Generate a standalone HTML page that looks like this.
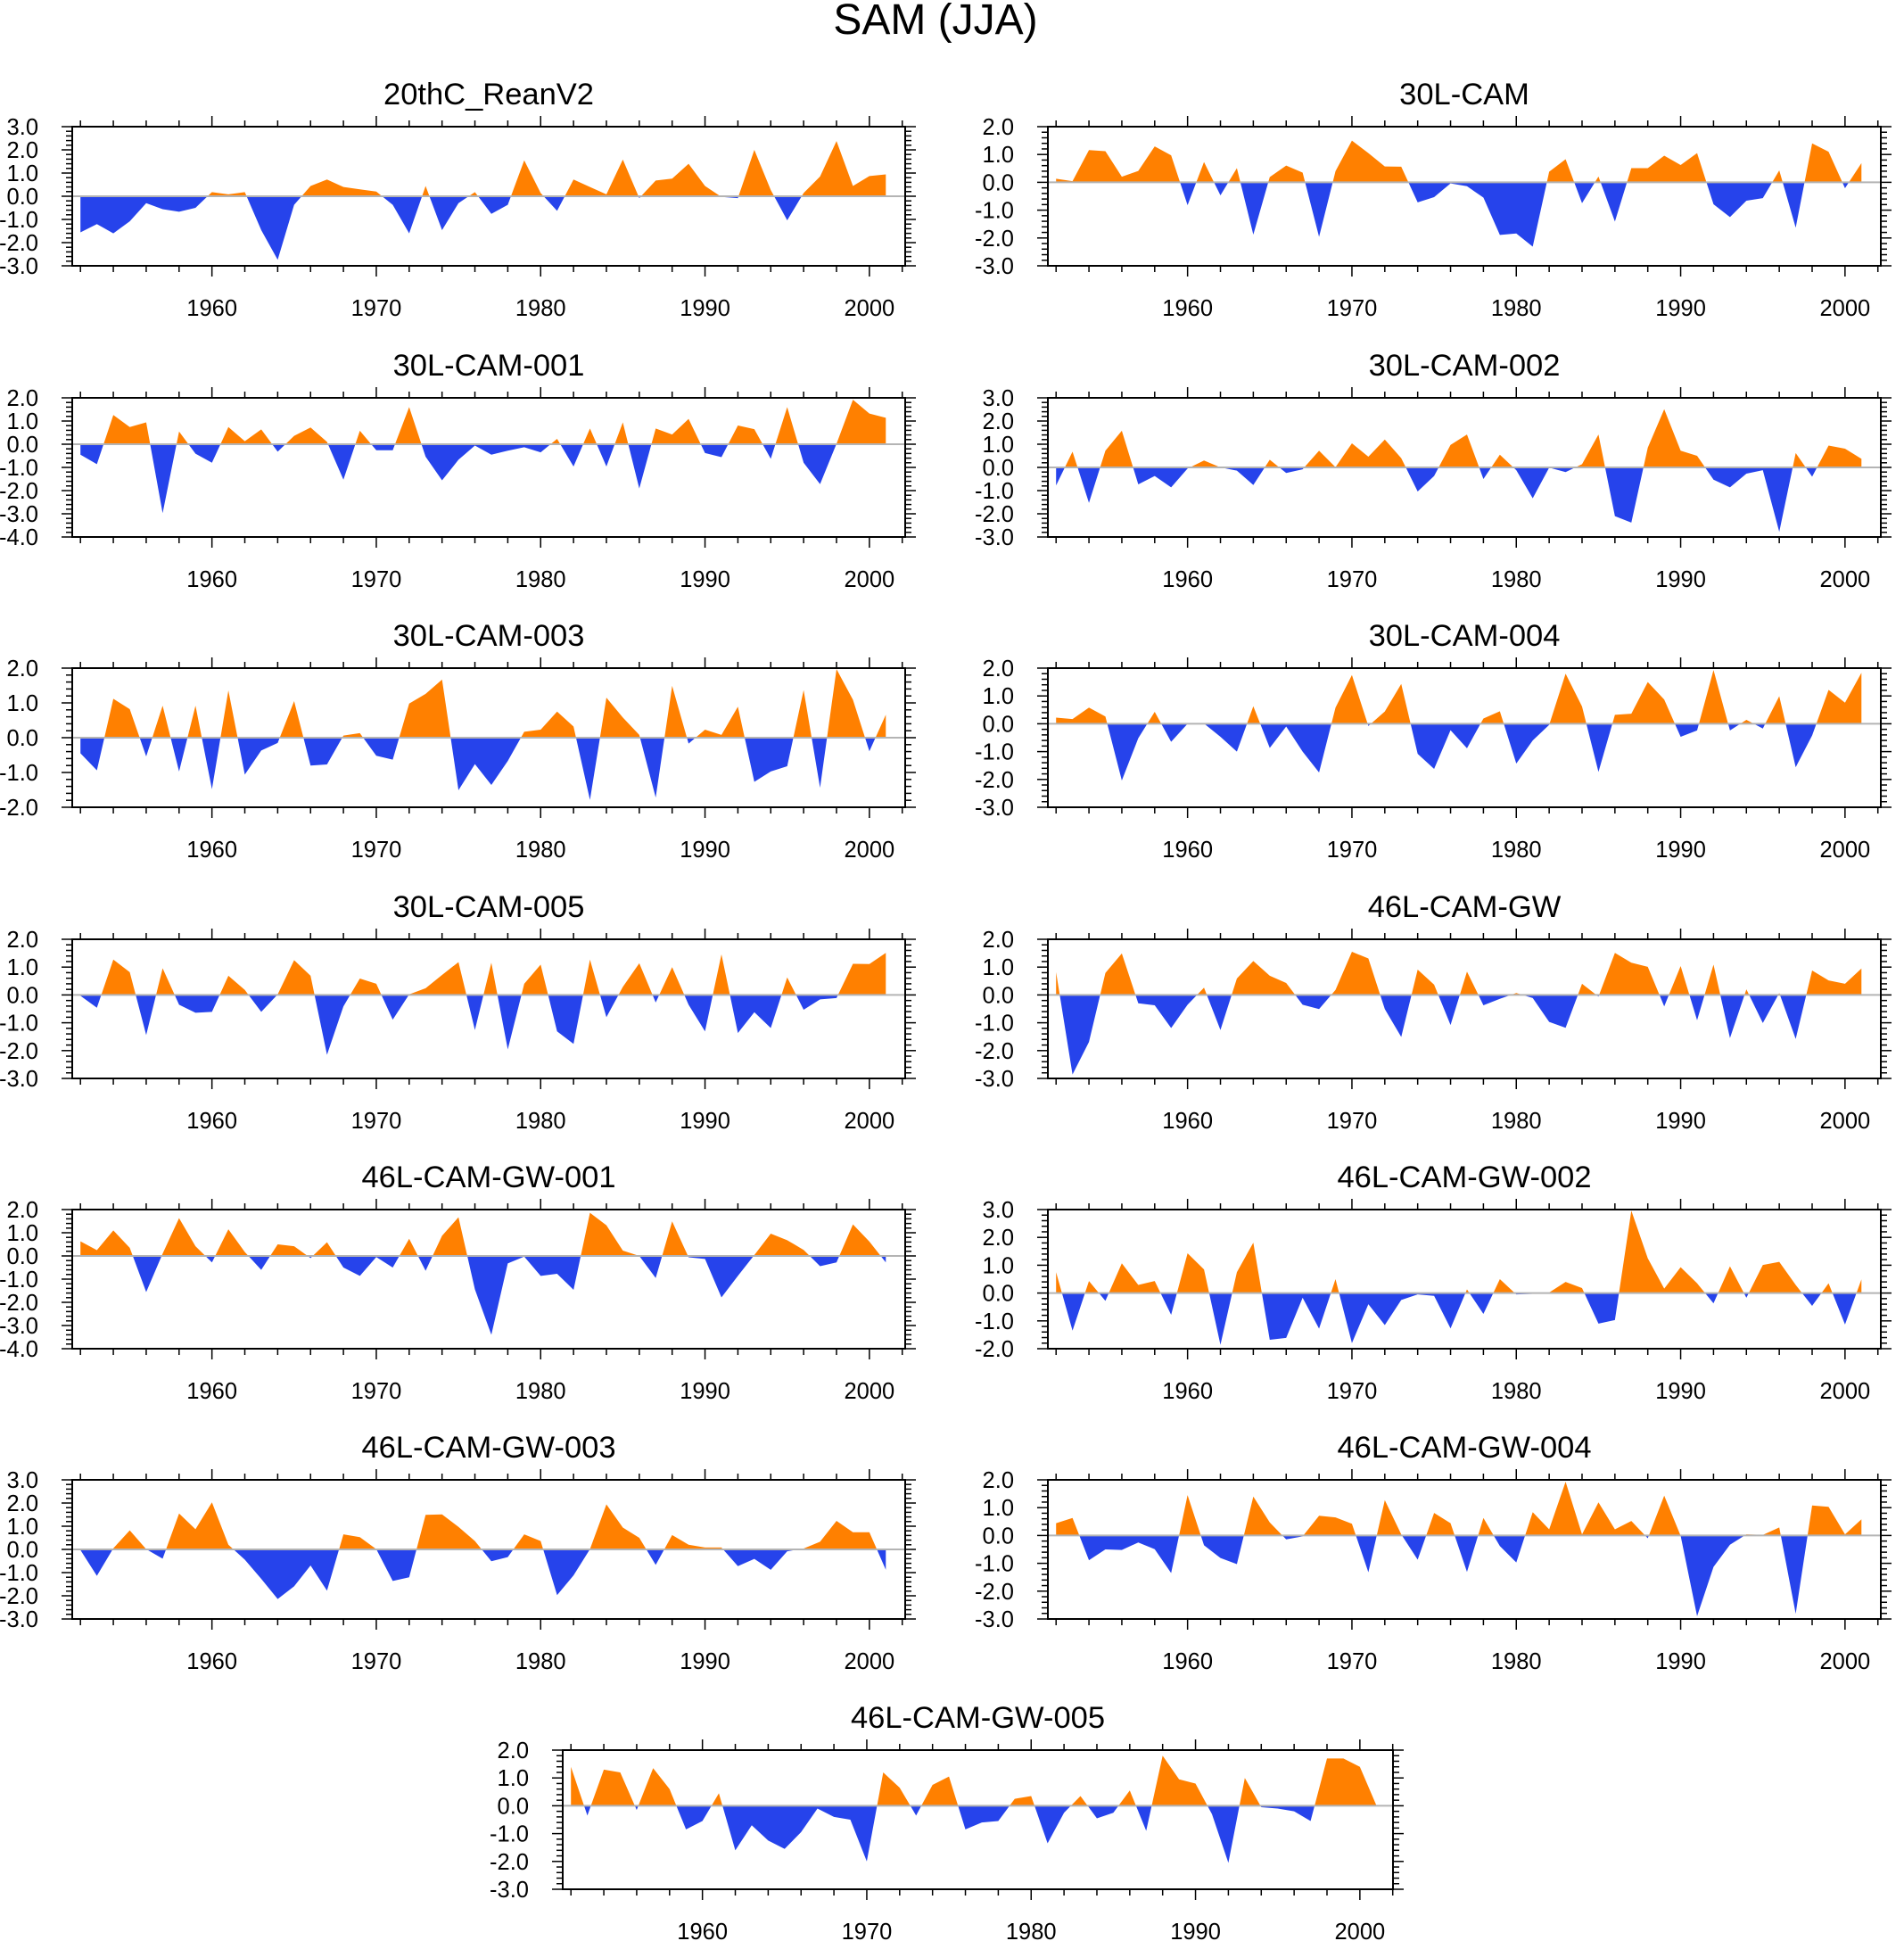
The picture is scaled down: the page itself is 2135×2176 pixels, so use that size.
<!DOCTYPE html>
<html><head><meta charset="utf-8"><title>SAM (JJA)</title>
<style>html,body{margin:0;padding:0;background:#fff}svg{display:block}</style></head>
<body>
<svg id="fig" xmlns="http://www.w3.org/2000/svg" width="2135" height="2176" viewBox="0 0 2135 2176" font-family="'Liberation Sans', Arial, sans-serif">
<rect width="2135" height="2176" fill="#fff"/>
<text x="1049" y="38" font-size="48" text-anchor="middle">SAM (JJA)</text>
</svg>
<script>
const startYear = 1952;
const panelTitles = ["20thC_ReanV2","30L-CAM","30L-CAM-001","30L-CAM-002","30L-CAM-003","30L-CAM-004","30L-CAM-005","46L-CAM-GW","46L-CAM-GW-001","46L-CAM-GW-002","46L-CAM-GW-003","46L-CAM-GW-004","46L-CAM-GW-005"];
const yMax = [3,2,2,3,2,2,2,2,2,3,3,2,2];
const yMin = [-3,-3,-4,-3,-2,-3,-3,-3,-4,-2,-3,-3,-3];
const xTickYears = [1960,1970,1980,1990,2000];

const s0 = [-1.56,-1.2,-1.6,-1.08,-0.3,-0.56,-0.67,-0.5,0.18,0.08,0.18,-1.46,-2.74,-0.37,0.44,0.72,0.4,0.3,0.2,-0.37,-1.6,0.44,-1.46,-0.3,0.18,-0.76,-0.37,1.55,0.14,-0.63,0.72,0.4,0.08,1.58,-0.08,0.68,0.76,1.4,0.44,-0.03,-0.08,2.0,0.27,-1.04,0.14,0.85,2.38,0.44,0.87,0.94];
const s1 = [0.13,0.04,1.16,1.12,0.2,0.41,1.29,0.97,-0.82,0.73,-0.47,0.51,-1.88,0.19,0.6,0.35,-1.96,0.4,1.5,1.05,0.57,0.56,-0.72,-0.53,-0.04,-0.14,-0.55,-1.89,-1.84,-2.31,0.38,0.83,-0.75,0.21,-1.41,0.51,0.51,0.96,0.62,1.05,-0.79,-1.25,-0.66,-0.57,0.43,-1.63,1.4,1.1,-0.21,0.69];
const s2 = [-0.45,-0.86,1.26,0.74,0.94,-2.97,0.55,-0.41,-0.8,0.74,0.13,0.64,-0.32,0.36,0.72,0.1,-1.53,0.58,-0.26,-0.26,1.6,-0.54,-1.56,-0.67,-0.06,-0.45,-0.28,-0.13,-0.35,0.23,-0.96,0.68,-0.96,0.94,-1.91,0.68,0.42,1.09,-0.38,-0.56,0.81,0.65,-0.63,1.6,-0.8,-1.72,0.02,1.92,1.32,1.14];
const s3 = [-0.78,0.68,-1.53,0.72,1.58,-0.73,-0.37,-0.86,-0.05,0.3,0.0,-0.14,-0.76,0.33,-0.24,-0.08,0.72,0.01,1.04,0.46,1.2,0.4,-1.04,-0.37,0.97,1.42,-0.5,0.55,-0.12,-1.33,-0.01,-0.2,0.14,1.42,-2.1,-2.38,0.85,2.51,0.72,0.5,-0.53,-0.86,-0.27,-0.12,-2.78,0.62,-0.4,0.94,0.81,0.37];
const s4 = [-0.45,-0.94,1.12,0.82,-0.54,0.92,-0.97,0.92,-1.48,1.36,-1.06,-0.37,-0.15,1.05,-0.8,-0.77,0.06,0.13,-0.52,-0.63,0.98,1.26,1.67,-1.51,-0.76,-1.36,-0.67,0.17,0.23,0.75,0.32,-1.79,1.15,0.58,0.08,-1.72,1.49,-0.17,0.23,0.08,0.89,-1.27,-0.97,-0.82,1.37,-1.44,1.97,1.09,-0.39,0.66];
const s5 = [0.22,0.17,0.58,0.26,-2.04,-0.52,0.43,-0.65,0,0.01,-0.47,-1.0,0.63,-0.87,-0.1,-1.0,-1.75,0.58,1.75,-0.08,0.44,1.43,-1.08,-1.62,-0.23,-0.88,0.19,0.45,-1.43,-0.6,-0.04,1.8,0.62,-1.73,0.32,0.36,1.5,0.87,-0.47,-0.24,1.93,-0.24,0.14,-0.17,0.99,-1.56,-0.42,1.22,0.76,1.83];
const s6 = [-0.03,-0.46,1.27,0.82,-1.44,0.96,-0.35,-0.64,-0.61,0.69,0.18,-0.61,0.02,1.25,0.69,-2.15,-0.41,0.59,0.4,-0.89,0.02,0.24,0.72,1.18,-1.26,1.16,-1.96,0.4,1.09,-1.31,-1.76,1.27,-0.8,0.29,1.14,-0.27,1.0,-0.35,-1.31,1.46,-1.37,-0.62,-1.19,0.63,-0.53,-0.16,-0.11,1.12,1.11,1.51];
const s7 = [0.82,-2.86,-1.69,0.79,1.49,-0.3,-0.37,-1.19,-0.35,0.26,-1.26,0.59,1.22,0.69,0.43,-0.35,-0.51,0.18,1.55,1.31,-0.51,-1.51,0.91,0.37,-1.08,0.84,-0.37,-0.14,0.07,-0.11,-0.97,-1.18,0.4,-0.06,1.51,1.16,1.01,-0.41,1.04,-0.91,1.09,-1.55,0.2,-1.01,0.07,-1.58,0.88,0.52,0.4,0.95];
const s8 = [0.63,0.25,1.1,0.35,-1.56,0.1,1.63,0.42,-0.28,1.15,0.17,-0.6,0.5,0.42,-0.09,0.59,-0.5,-0.86,-0.05,-0.5,0.74,-0.64,0.87,1.67,-1.44,-3.4,-0.32,-0.03,-0.86,-0.77,-1.46,1.86,1.32,0.23,0,-0.95,1.49,-0.06,-0.13,-1.79,-0.86,0.04,0.96,0.68,0.26,-0.44,-0.28,1.36,0.62,-0.28];
const s9 = [0.75,-1.35,0.43,-0.28,1.07,0.29,0.43,-0.78,1.43,0.85,-1.86,0.75,1.81,-1.68,-1.61,-0.17,-1.28,0.5,-1.8,-0.4,-1.15,-0.25,-0.05,-0.1,-1.27,0.13,-0.75,0.5,-0.05,-0.03,0.02,0.4,0.18,-1.1,-0.97,2.96,1.25,0.16,0.93,0.35,-0.37,0.96,-0.17,1.01,1.12,0.29,-0.46,0.35,-1.13,0.49];
const s10 = [-0.03,-1.14,0.05,0.82,0.01,-0.4,1.55,0.87,2.03,0.2,-0.44,-1.27,-2.14,-1.59,-0.69,-1.78,0.65,0.53,0.01,-1.36,-1.2,1.49,1.51,0.97,0.36,-0.51,-0.33,0.65,0.36,-1.97,-1.12,0.01,1.94,0.94,0.5,-0.67,0.62,0.2,0.08,0.08,-0.72,-0.41,-0.88,-0.08,0.04,0.33,1.23,0.74,0.74,-0.88];
const s11 = [0.44,0.63,-0.89,-0.5,-0.52,-0.25,-0.49,-1.35,1.45,-0.35,-0.81,-1.03,1.4,0.47,-0.14,-0.03,0.71,0.65,0.42,-1.32,1.27,0.04,-0.87,0.81,0.44,-1.31,0.63,-0.38,-0.97,0.84,0.22,1.93,0.04,1.19,0.22,0.52,-0.1,1.43,-0.01,-2.9,-1.13,-0.33,0.04,0.02,0.29,-2.81,1.08,1.03,0.04,0.58];
const s12 = [1.4,-0.35,1.3,1.2,-0.15,1.35,0.6,-0.85,-0.55,0.45,-1.6,-0.7,-1.25,-1.55,-0.95,-0.1,-0.4,-0.5,-2.0,1.2,0.65,-0.35,0.75,1.05,-0.85,-0.6,-0.55,0.25,0.35,-1.35,-0.25,0.35,-0.45,-0.25,0.55,-0.9,1.8,0.95,0.8,-0.3,-2.05,1.0,-0.05,-0.1,-0.2,-0.55,1.7,1.7,1.4,0.02];

const allSeries = [s0,s1,s2,s3,s4,s5,s6,s7,s8,s9,s10,s11,s12];

const NS = "http://www.w3.org/2000/svg";
const svg = document.getElementById('fig');
function mk(tag, attrs, parent) {
  const e = document.createElementNS(NS, tag);
  for (const k in attrs) e.setAttribute(k, attrs[k]);
  (parent || svg).appendChild(e);
  return e;
}
const rowTop = [142,446,749,1053,1356,1659,1962];
const PH = 156;
const PXY = 18.43;
const X0 = 1951.5;

function drawPanel(i, left, top, PW) {
  const right = left + PW;
  const bottom = top + PH;
  const vals = allSeries[i];
  const ymax = yMax[i], ymin = yMin[i];
  const xs = yr => left + (yr - X0) * PXY;
  const ys = v => top + (ymax - v) / (ymax - ymin) * (bottom - top);
  const g = mk('g', {});
  
  

  const cid = 'clip' + i;
  const defs = mk('defs', {}, g);
  const cUp = mk('clipPath', {id: cid + 'u'}, defs);
  mk('rect', {x: left, y: top, width: right-left, height: ys(0)-top}, cUp);
  const cDn = mk('clipPath', {id: cid + 'd'}, defs);
  mk('rect', {x: left, y: ys(0), width: right-left, height: bottom-ys(0)}, cDn);

  let d = 'M' + xs(startYear).toFixed(2) + ',' + ys(0).toFixed(2);
  vals.forEach((v, k) => { d += 'L' + xs(startYear + k).toFixed(2) + ',' + ys(v).toFixed(2); });
  d += 'L' + xs(startYear + vals.length - 1).toFixed(2) + ',' + ys(0).toFixed(2) + 'Z';
  const up = mk('path', {d: d, fill: '#ff8000', 'clip-path': 'url(#' + cid + 'u)'}, g);
  
  
  const dn = mk('path', {d: d, fill: '#2643eb', 'clip-path': 'url(#' + cid + 'd)'}, g);
  
  

  const zl = mk('line', {x1: left, x2: right, y1: ys(0), y2: ys(0), stroke: '#b4b4b4', 'stroke-width': 2}, g);
  
  

  const fr = mk('rect', {x: left, y: top, width: right-left, height: PH, fill: 'none', stroke: '#000', 'stroke-width': 2}, g);
  
  

  for (let yr = 1952; yr <= 2002; yr += 2) {
    const major = yr % 10 === 0;
    const L = major ? 12 : 7;
    const x = xs(yr);
    if (x > right + 0.5) continue;
    mk('line', {x1: x, x2: x, y1: bottom, y2: bottom + L, stroke: '#000', 'stroke-width': 1.5}, g);
    mk('line', {x1: x, x2: x, y1: top, y2: top - L, stroke: '#000', 'stroke-width': 1.5}, g);
  }
  xTickYears.forEach(yr => {
    const t = mk('text', {x: xs(yr), y: bottom + 56, 'font-size': 25.5, 'text-anchor': 'middle'}, g);
    t.textContent = String(yr);
    
    
  });
  for (let m = Math.round(ymin * 5); m <= Math.round(ymax * 5); m++) {
    const v = m / 5;
    const major = m % 5 === 0;
    const L = major ? 12 : 7;
    const y = ys(v);
    mk('line', {x1: left, x2: left - L, y1: y, y2: y, stroke: '#000', 'stroke-width': 1.5}, g);
    mk('line', {x1: right, x2: right + L, y1: y, y2: y, stroke: '#000', 'stroke-width': 1.5}, g);
    if (major) {
      const t = mk('text', {x: left - 38, y: y + 9, 'font-size': 25.5, 'text-anchor': 'end'}, g);
      t.textContent = v.toFixed(1);
      
      
    }
  }
  const tt = mk('text', {x: (left + right) / 2, y: top - 25, 'font-size': 34.5, 'text-anchor': 'middle'}, g);
  tt.textContent = panelTitles[i];
  
  
}

for (let i = 0; i < 12; i++) {
  const row = Math.floor(i / 2);
  const left = (i % 2 === 0) ? 81 : 1175;
  drawPanel(i, left, rowTop[row], 934);
}
drawPanel(12, 631, rowTop[6], 931);
</script>
</body></html>
